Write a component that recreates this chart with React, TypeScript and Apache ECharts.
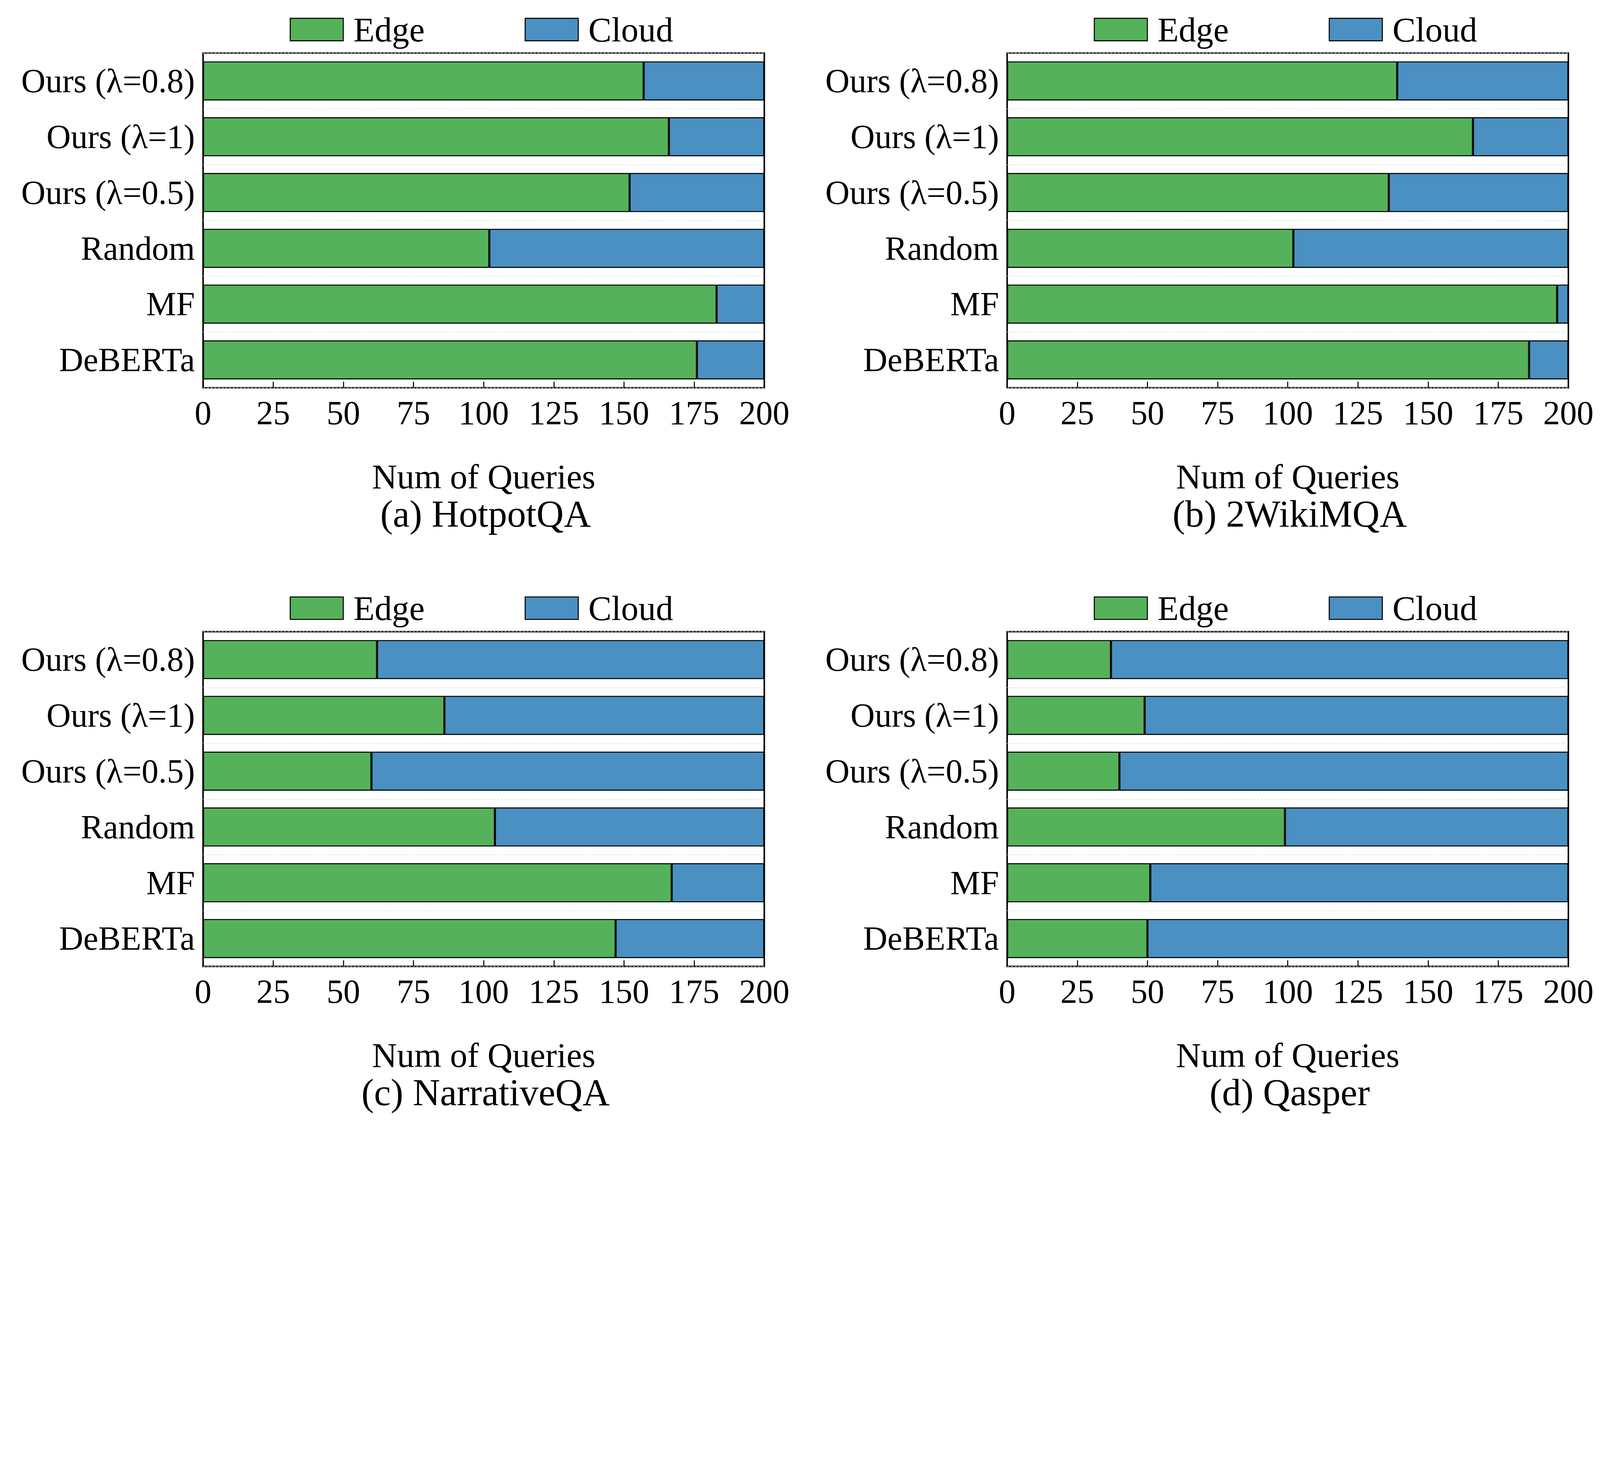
import { useEffect, useRef } from "react";
import * as echarts from "echarts";

const CATEGORIES = ["Ours (λ=0.8)", "Ours (λ=1)", "Ours (λ=0.5)", "Random", "MF", "DeBERTa"];
const TOTAL = 200;
const EDGE_HOTPOT = [157, 166, 152, 102, 183, 176];
const EDGE_2WIKI = [139, 166, 136, 102, 196, 186];
const EDGE_NARRATIVE = [62, 86, 60, 104, 167, 147];
const EDGE_QASPER = [37, 49, 40, 99, 51, 50];
const PANEL_TITLES = ["(a) HotpotQA", "(b) 2WikiMQA", "(c) NarrativeQA", "(d) Qasper"];
const PANEL_EDGES = [EDGE_HOTPOT, EDGE_2WIKI, EDGE_NARRATIVE, EDGE_QASPER];

const GREEN = "#55b25a";
const BLUE = "#4a90c2";
const FONT = "Liberation Serif";
// layout in a 1568-wide design space, scaled to the window
const LEFTS = [199, 987];
const WIDTH = 550;
const TOPS = [52, 619];
const HEIGHT = 328;

export default function App() {
  const ref = useRef<HTMLDivElement | null>(null);

  useEffect(() => {
    if (!ref.current) return;
    const chart = echarts.init(ref.current, undefined, { renderer: "svg" });
    const s = ref.current.clientWidth / 1568;
    const grids: any[] = [];
    const xAxes: any[] = [];
    const yAxes: any[] = [];
    const series: any[] = [];
    const legends: any[] = [];
    const titles: any[] = [];

    PANEL_EDGES.forEach((edge, i) => {
      const left = LEFTS[i % 2];
      const top = TOPS[Math.floor(i / 2)];
      const cx = left + WIDTH / 2;
      grids.push({ left: left * s, top: top * s, width: WIDTH * s, height: HEIGHT * s, show: true, borderColor: "#000", borderWidth: 1.5 * s, backgroundColor: "#fff" });
      xAxes.push({
        gridIndex: i,
        type: "value",
        min: 0,
        max: 200,
        interval: 25,
        name: "Num of Queries",
        nameLocation: "middle",
        nameGap: 70 * s,
        nameTextStyle: { fontFamily: FONT, fontSize: 34 * s, color: "#000" },
        axisLine: { show: false },
        axisTick: { show: true, inside: true, length: 6 * s, lineStyle: { color: "#000", width: 1 * s } },
        axisLabel: { fontFamily: FONT, fontSize: 33 * s, color: "#000", margin: 8 * s },
        splitLine: { show: false },
      });
      yAxes.push({
        gridIndex: i,
        type: "category",
        inverse: true,
        data: CATEGORIES,
        axisLine: { show: false },
        axisTick: { show: false },
        axisLabel: { fontFamily: FONT, fontSize: 33 * s, color: "#000", margin: 8 * s },
        splitLine: { show: true, lineStyle: { color: "#ddd", type: "dashed", width: 0.6 * s } },
      });
      const itemStyle = { borderColor: "#000", borderWidth: 1 * s };
      series.push({
        name: "Edge",
        type: "bar",
        stack: "s" + i,
        xAxisIndex: i,
        yAxisIndex: i,
        barWidth: "70%",
        itemStyle: { ...itemStyle, color: GREEN },
        data: edge,
      });
      series.push({
        name: "Cloud",
        type: "bar",
        stack: "s" + i,
        xAxisIndex: i,
        yAxisIndex: i,
        barWidth: "70%",
        itemStyle: { ...itemStyle, color: BLUE },
        data: edge.map((v) => TOTAL - v),
      });
      legends.push({
        data: ["Edge", "Cloud"],
        icon: "rect",
        left: (left + 83) * s,
        top: (top - 42) * s,
        itemWidth: 52 * s,
        itemHeight: 22 * s,
        itemGap: 98 * s,
        itemStyle: { borderColor: "#000", borderWidth: 1 * s },
        textStyle: { fontFamily: FONT, fontSize: 34 * s, color: "#000", padding: [0, 0, 0, 8 * s] },
      });
      titles.push({
        text: PANEL_TITLES[i],
        left: cx * s,
        textAlign: "center",
        top: (top + HEIGHT + 103) * s,
        textStyle: { fontFamily: FONT, fontSize: 37 * s, fontWeight: "normal", color: "#000" },
      });
    });

    chart.setOption({
      animation: false,
      backgroundColor: "#fff",
      title: titles,
      legend: legends,
      grid: grids,
      xAxis: xAxes,
      yAxis: yAxes,
      series,
    });
    const resize = () => chart.resize();
    window.addEventListener("resize", resize);
    return () => {
      window.removeEventListener("resize", resize);
      chart.dispose();
    };
  }, []);

  return <div ref={ref} style={{ position: "fixed", left: 0, top: 0, width: "100vw", height: "100vh" }} />;
}
